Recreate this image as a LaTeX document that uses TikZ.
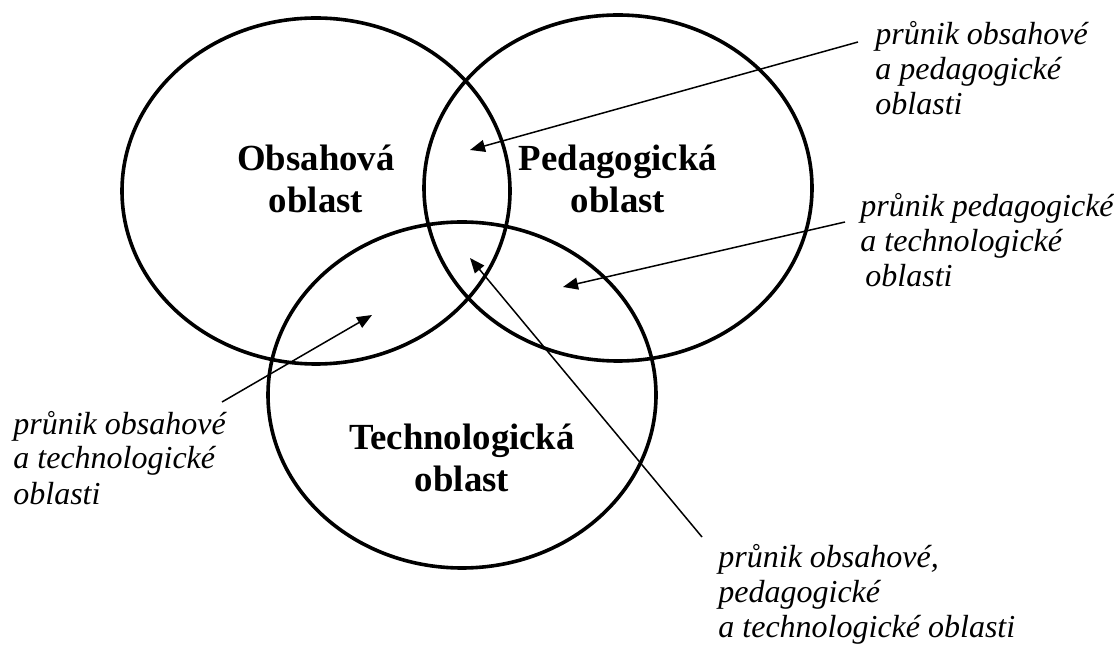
\documentclass[tikz,border=0pt]{standalone}
\usepackage{fontspec}
\setmainfont{Liberation Serif}
\usetikzlibrary{arrows.meta}

\begin{document}
\begin{tikzpicture}[x=0.5pt, y=-0.5pt,
    area/.style={font=\fontsize{18.4}{21}\selectfont\bfseries, align=center, anchor=base, inner sep=0pt},
    note/.style={font=\fontsize{16}{17.5}\selectfont\itshape, align=left, anchor=base west, inner sep=0pt},
    pointer/.style={-{Triangle[length=7.5pt,width=6pt]}, line width=0.75pt}]
    \useasboundingbox (0,0) rectangle (1114,646);

    % draw the sets
    \draw[line width=1.8pt] (316,191) ellipse (97pt and 86.5pt);
    \draw[line width=1.8pt] (618,188) ellipse (97pt and 86.5pt);
    \draw[line width=1.8pt] (462,395) ellipse (97pt and 86.5pt);

    % the names of the sets (placed at the baseline of the last line)
    \node[area] (obs) at (316,213) {Obsahová\\oblast};
    \node[area] (ped) at (618,213) {Pedagogická\\oblast};
    \node[area] (tech) at (462,492) {Technologická\\oblast};

    % the texts beside the sets
    \node[note] (op) at (875,115) {průnik obsahové\\a pedagogické\\oblasti};
    \node[note] (pt) at (860,287) {průnik pedagogické\\a technologické\\\hspace*{2.5pt}oblasti};
    \node[note] (ot) at (13,504) {průnik obsahové\\a technologické\\oblasti};
    \node[note] (opt) at (718,637) {průnik obsahové,\\pedagogické\\a technologické oblasti};

    % the ends of the arrows
    \coordinate (s1) at (858,42);
    \coordinate (t1) at (470,150);
    \coordinate (s2) at (845,222);
    \coordinate (t2) at (563,287);
    \coordinate (s3) at (222,402);
    \coordinate (t3) at (372,315);
    \coordinate (s4) at (702,537);
    \coordinate (t4) at (470,258);

    % draw the arrows
    \draw[pointer] (s1) -- (t1);
    \draw[pointer] (s2) -- (t2);
    \draw[pointer] (s3) -- (t3);
    \draw[pointer] (s4) -- (t4);
\end{tikzpicture}
\end{document}
